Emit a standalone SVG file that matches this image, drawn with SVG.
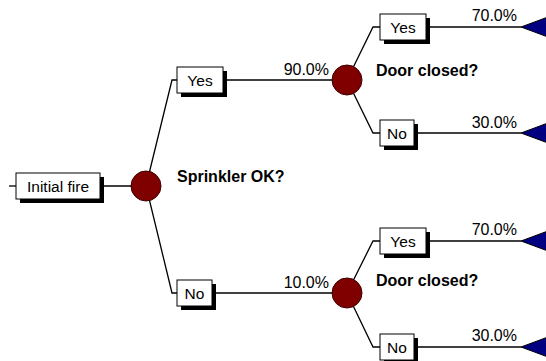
<svg xmlns="http://www.w3.org/2000/svg" width="546" height="361" viewBox="0 0 546 361">
<style>
.ln{fill:none;stroke:#000;stroke-width:1.3}
.box{fill:#fff;stroke:#000;stroke-width:1}
.sh{fill:#000}
.chance{fill:#800000;stroke:#3a0000;stroke-width:1}
.end{fill:#000080;stroke:#000;stroke-width:1}
.lbl{font-family:"Liberation Sans",Arial,sans-serif;font-size:15.5px;fill:#000;text-anchor:middle}
.pct{font-family:"Liberation Sans",Arial,sans-serif;font-size:16px;fill:#000;text-anchor:end}
.q{font-family:"Liberation Sans",Arial,sans-serif;font-size:16px;font-weight:bold;fill:#000}
</style>
<rect width="546" height="361" fill="#fff"/>
<g id="connectors">
<path class="ln" d="M9 186H16"/>
<path class="ln" d="M100 186H146"/>
<path class="ln" d="M146 186L172 80H177"/>
<path class="ln" d="M146 186L172 293H177"/>
<path class="ln" d="M223 80H347"/>
<path class="ln" d="M212 293H347"/>
<path class="ln" d="M347 80L373 27H380"/>
<path class="ln" d="M347 80L373 133H380"/>
<path class="ln" d="M347 293L373 241H380"/>
<path class="ln" d="M347 293L373 347H380"/>
<path class="ln" d="M426 27H521"/>
<path class="ln" d="M414 133H521"/>
<path class="ln" d="M426 241H521"/>
<path class="ln" d="M414 347H521"/>
</g>
<g id="initial">
<rect class="sh" x="20" y="177" width="84" height="26"/>
<rect class="box" x="16" y="173" width="84" height="26"/>
<text class="lbl" x="58" y="191.5">Initial fire</text>
</g>
<g id="sprinkler">
<circle class="chance" cx="146" cy="186" r="15"/>
<text class="q" x="177" y="181.5">Sprinkler OK?</text>
</g>
<g id="yes1">
<rect class="sh" x="181" y="71" width="46" height="26"/>
<rect class="box" x="177" y="67" width="46" height="26"/>
<text class="lbl" x="200" y="85.5">Yes</text>
<text class="pct" x="329" y="75">90.0%</text>
</g>
<g id="no1">
<rect class="sh" x="181" y="284" width="35" height="26"/>
<rect class="box" x="177" y="280" width="35" height="26"/>
<text class="lbl" x="194.5" y="298.5">No</text>
<text class="pct" x="329" y="288">10.0%</text>
</g>
<g id="door1">
<circle class="chance" cx="347" cy="80" r="15"/>
<text class="q" x="376" y="76">Door closed?</text>
</g>
<g id="door2">
<circle class="chance" cx="347" cy="293" r="15"/>
<text class="q" x="376" y="286">Door closed?</text>
</g>
<g id="yes2a">
<rect class="sh" x="384" y="18" width="46" height="26"/>
<rect class="box" x="380" y="14" width="46" height="26"/>
<text class="lbl" x="403" y="32.5">Yes</text>
<text class="pct" x="517" y="21">70.0%</text>
</g>
<g id="no2a">
<rect class="sh" x="384" y="124" width="34" height="26"/>
<rect class="box" x="380" y="120" width="34" height="26"/>
<text class="lbl" x="397" y="138.5">No</text>
<text class="pct" x="517" y="128">30.0%</text>
</g>
<g id="yes2b">
<rect class="sh" x="384" y="232" width="46" height="26"/>
<rect class="box" x="380" y="228" width="46" height="26"/>
<text class="lbl" x="403" y="246.5">Yes</text>
<text class="pct" x="517" y="235">70.0%</text>
</g>
<g id="no2b">
<rect class="sh" x="384" y="338" width="34" height="26"/>
<rect class="box" x="380" y="334" width="34" height="26"/>
<text class="lbl" x="397" y="352.5">No</text>
<text class="pct" x="517" y="341">30.0%</text>
</g>
<g id="end1"><polygon class="end" points="521,27 556,14 556,40"/></g>
<g id="end2"><polygon class="end" points="521,133 556,120 556,146"/></g>
<g id="end3"><polygon class="end" points="521,241 556,228 556,254"/></g>
<g id="end4"><polygon class="end" points="521,347 556,334 556,360"/></g>
</svg>
